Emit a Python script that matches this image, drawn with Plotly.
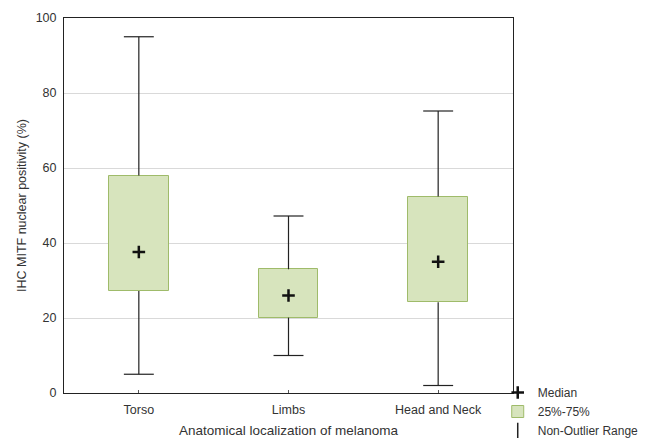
import plotly.graph_objects as go

categories = ["Torso", "Limbs", "Head and Neck"]
q1 = [27.2, 20.1, 24.2]
median = [37.6, 26.0, 35.0]
q3 = [58.0, 33.0, 52.4]
lower = [5.0, 10.0, 2.0]
upper = [95.0, 47.2, 75.2]
y_ticks = [0, 20, 40, 60, 80, 100]

xpos = list(range(len(categories)))
box_w = 0.4
cap_hw = 0.1

fig = go.Figure()

fig.add_trace(go.Bar(
    x=xpos, base=q1, y=[b - a for a, b in zip(q1, q3)], width=box_w,
    marker=dict(color="#d7e4bd", line=dict(color="#9fbb6a", width=1)),
    name="25%-75%", showlegend=True, legendrank=2,
))

wx, wy = [], []
for i in xpos:
    wx += [i, i, None, i, i, None,
           i - cap_hw, i + cap_hw, None, i - cap_hw, i + cap_hw, None]
    wy += [q3[i], upper[i], None, q1[i], lower[i], None,
           upper[i], upper[i], None, lower[i], lower[i], None]
fig.add_trace(go.Scatter(x=wx, y=wy, mode="lines",
                         line=dict(color="#222222", width=1.2),
                         showlegend=False, hoverinfo="skip"))

fig.add_trace(go.Scatter(x=xpos, y=median, mode="markers",
                         marker=dict(symbol="cross-thin", size=9,
                                     line=dict(color="#111111", width=2.5)),
                         name="Median", legendrank=1))

fig.add_trace(go.Scatter(x=[None], y=[None], mode="markers",
                         marker=dict(symbol="line-ns", size=11,
                                     line=dict(color="#222222", width=1.5)),
                         name="Non-Outlier Range", legendrank=3))

fig.update_layout(
    width=650, height=438,
    margin=dict(l=64, r=137, t=18, b=45, autoexpand=False),
    paper_bgcolor="white", plot_bgcolor="white",
    font=dict(family="Liberation Sans, Arial, sans-serif", size=12.5, color="#333333"),
    bargap=0,
    legend=dict(x=0.966, y=0.04, xanchor="left", yanchor="top",
                font=dict(size=12, color="#333333"), tracegroupgap=0,
                itemwidth=30, bgcolor="rgba(0,0,0,0)"),
    xaxis=dict(range=[-0.5, 2.5], tickvals=xpos, ticktext=categories,
               showline=True, linecolor="#222222", linewidth=1, mirror=True,
               ticks="inside", ticklen=3, tickcolor="#555555",
               showgrid=False, zeroline=False, automargin=False,
               ticklabelstandoff=5,
               title=dict(text="Anatomical localization of melanoma",
                          font=dict(size=13.5, color="#333333"), standoff=10)),
    yaxis=dict(range=[0, 100], tickvals=y_ticks, automargin=False,
               showline=True, linecolor="#222222", linewidth=1, mirror=True,
               showgrid=True, gridcolor="#d9d9d9", gridwidth=1,
               zeroline=False, ticks="", ticklabelstandoff=4,
               title=dict(text="IHC MITF nuclear positivity (%)",
                          font=dict(size=12.5, color="#333333"), standoff=6)),
)

fig.write_html("out.html", config={"displayModeBar": False},
               post_script="document.body.style.margin='0px';document.body.style.overflow='hidden';")
